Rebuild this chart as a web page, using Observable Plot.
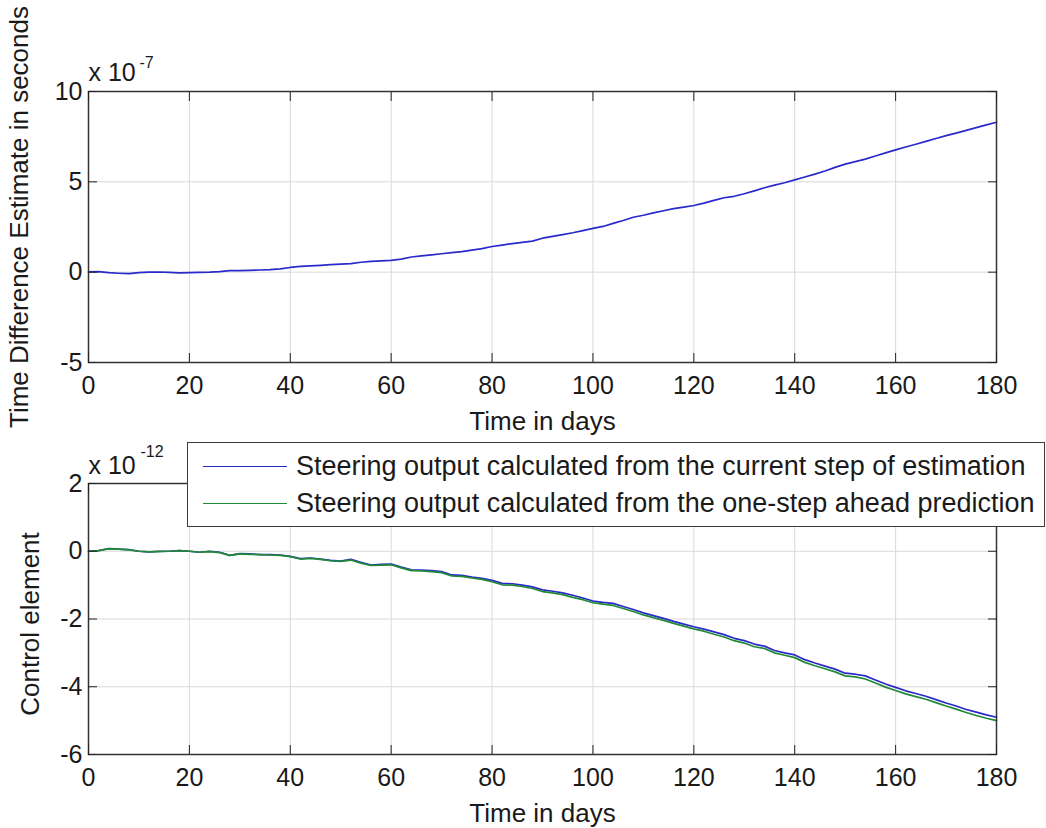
<!DOCTYPE html>
<html>
<head>
<meta charset="utf-8">
<script src="https://cdn.jsdelivr.net/npm/d3@7"></script>
<script src="https://cdn.jsdelivr.net/npm/@observablehq/plot@0.6"></script>
<style>
  html, body { margin: 0; padding: 0; background: #fff; }
  #wrap { position: relative; width: 1046px; height: 828px; overflow: hidden; font-family: "Liberation Sans", Arial, sans-serif; }
  #top, #bottom { position: absolute; left: 0; }
  #top { top: 0; }
  #bottom { top: 430px; }
  #legend { position: absolute; left: 187px; top: 442px; width: 858px; height: 85px; box-sizing: border-box;
            border: 1.5px solid #3a3a3a; background: #fff; }
  .lg-row { position: absolute; left: 0; height: 30px; display: flex; align-items: center; }
  .lg-line { width: 84px; height: 0; border-top: 1.6px solid; margin-left: 15px; margin-right: 9px; }
  .lg-text { font-size: 27px; color: #1a1a1a; white-space: nowrap; }
</style>
</head>
<body>
<div id="wrap">
  <div id="top"></div>
  <div id="bottom"></div>
  <div id="legend"></div>
</div>
<script>
// ---------------- data ----------------
const days = [0,2,4,6,8,10,12,14,16,18,20,22,24,26,28,30,32,34,36,38,40,42,44,46,48,50,52,54,56,58,60,62,64,66,68,70,72,74,76,78,80,82,84,86,88,90,92,94,96,98,100,102,104,106,108,110,112,114,116,118,120,122,124,126,128,130,132,134,136,138,140,142,144,146,148,150,152,154,156,158,160,162,164,166,168,170,172,174,176,178,180];

// Time difference estimate, units of 1e-7 s
const timeDiff = [0.02,0.03,-0.03,-0.06,-0.08,-0.03,0.00,0.01,-0.01,-0.04,-0.03,-0.01,0.00,0.03,0.09,0.08,0.10,0.12,0.14,0.18,0.26,0.32,0.35,0.38,0.42,0.45,0.47,0.55,0.60,0.63,0.65,0.72,0.84,0.90,0.96,1.02,1.08,1.14,1.22,1.30,1.42,1.50,1.58,1.65,1.72,1.88,1.98,2.08,2.18,2.30,2.42,2.53,2.70,2.86,3.04,3.15,3.28,3.40,3.52,3.60,3.69,3.82,3.97,4.12,4.20,4.34,4.50,4.67,4.82,4.95,5.11,5.27,5.43,5.60,5.80,5.98,6.12,6.26,6.43,6.60,6.77,6.93,7.08,7.24,7.40,7.56,7.70,7.85,8.00,8.15,8.30];

// Control element, units of 1e-12
const steeringCurrent = [0.00,0.02,0.08,0.06,0.05,0.00,-0.02,0.00,0.00,0.02,0.00,-0.03,0.00,-0.03,-0.12,-0.07,-0.08,-0.10,-0.10,-0.11,-0.15,-0.22,-0.20,-0.23,-0.27,-0.29,-0.24,-0.33,-0.41,-0.39,-0.38,-0.47,-0.55,-0.56,-0.57,-0.60,-0.70,-0.71,-0.76,-0.80,-0.86,-0.95,-0.96,-1.00,-1.05,-1.14,-1.18,-1.23,-1.30,-1.38,-1.47,-1.51,-1.54,-1.63,-1.72,-1.82,-1.90,-1.98,-2.07,-2.15,-2.23,-2.30,-2.38,-2.46,-2.57,-2.64,-2.74,-2.80,-2.93,-3.00,-3.06,-3.20,-3.30,-3.39,-3.48,-3.60,-3.63,-3.68,-3.80,-3.92,-4.02,-4.12,-4.20,-4.28,-4.38,-4.48,-4.57,-4.67,-4.75,-4.83,-4.90];
const steeringPredicted = [0.00,0.02,0.07,0.06,0.04,0.00,-0.02,-0.01,0.00,0.02,0.00,-0.03,-0.01,-0.04,-0.12,-0.08,-0.09,-0.10,-0.11,-0.12,-0.16,-0.23,-0.21,-0.24,-0.28,-0.30,-0.26,-0.35,-0.42,-0.41,-0.40,-0.49,-0.57,-0.58,-0.60,-0.63,-0.73,-0.74,-0.79,-0.83,-0.90,-0.99,-1.00,-1.04,-1.10,-1.19,-1.23,-1.28,-1.36,-1.43,-1.52,-1.56,-1.60,-1.69,-1.78,-1.88,-1.96,-2.04,-2.13,-2.21,-2.29,-2.36,-2.45,-2.53,-2.64,-2.71,-2.82,-2.87,-3.00,-3.07,-3.14,-3.28,-3.38,-3.47,-3.56,-3.68,-3.71,-3.77,-3.89,-4.01,-4.11,-4.21,-4.29,-4.37,-4.47,-4.57,-4.66,-4.76,-4.85,-4.93,-5.00];

const xTicks = [0,20,40,60,80,100,120,140,160,180];
const yTicksTop = [-5,0,5,10];
const yTicksBottom = [-6,-4,-2,0,2];

const xLabel = "Time in days";
const yLabelTop = "Time Difference Estimate in seconds";
const yLabelBottom = "Control element";
const expTop = ["x 10", "-7"];
const expBottom = ["x 10", "-12"];
const seriesNames = ["Steering output calculated from the current step of estimation",
                     "Steering output calculated from the one-step ahead prediction"];
const seriesColors = ["#2a2acc", "#218a35"];

// ---------------- helpers ----------------
const FONT = '"Liberation Sans", Arial, sans-serif';
const fmt = d => String(d);

function grids(yTicks) {
  return [
    Plot.gridX(xTicks, {stroke: "#d9d9d9", strokeOpacity: 1, strokeWidth: 1}),
    Plot.gridY(yTicks, {stroke: "#d9d9d9", strokeOpacity: 1, strokeWidth: 1}),
  ];
}
function axes(yTicks, yLabel, yLabelDx, yLabelDy, exp, expDy, supDx, supDy) {
  return [
    Plot.frame({stroke: "#333", strokeWidth: 1.5}),
    Plot.axisX(xTicks, {anchor: "bottom", tickSize: -9, tickPadding: 23, tickFormat: fmt, fontSize: 25, fill: "#1a1a1a", stroke: "#222", label: null}),
    Plot.axisX(xTicks, {anchor: "top", tickSize: -9, tickFormat: () => "", stroke: "#222", label: null}),
    Plot.axisY(yTicks, {anchor: "left", tickSize: -9, tickPadding: 15, tickFormat: fmt, fontSize: 25, fill: "#1a1a1a", stroke: "#222", label: null}),
    Plot.axisY(yTicks, {anchor: "right", tickSize: -9, tickFormat: () => "", stroke: "#222", label: null}),
    Plot.text([xLabel], {text: d => d, frameAnchor: "bottom", dy: 49, lineAnchor: "top", fontSize: 26, fill: "#1a1a1a"}),
    Plot.text([yLabel], {text: d => d, frameAnchor: "left", textAnchor: "middle", dx: yLabelDx, dy: yLabelDy, rotate: -90, lineAnchor: "middle", fontSize: 26, fill: "#1a1a1a"}),
    Plot.text([exp[0]], {text: d => d, frameAnchor: "top-left", textAnchor: "start", lineAnchor: "bottom", dy: expDy, fontSize: 25, fill: "#1a1a1a"}),
    Plot.text([exp[1]], {text: d => d, frameAnchor: "top-left", textAnchor: "start", lineAnchor: "bottom", dx: supDx, dy: supDy, fontSize: 16, fill: "#1a1a1a"})
  ];
}

const topData = days.map((d, i) => ({day: d, v: timeDiff[i]}));
const botData = days.flatMap((d, i) => [
  {day: d, v: steeringCurrent[i], s: seriesNames[0]},
  {day: d, v: steeringPredicted[i], s: seriesNames[1]}
]);

const topPlot = Plot.plot({
  width: 1046, height: 430,
  marginLeft: 88, marginRight: 50, marginTop: 91, marginBottom: 68,
  style: {fontFamily: FONT, background: "transparent", overflow: "visible"},
  x: {domain: [0, 180], axis: null},
  y: {domain: [-5, 10], axis: null},
  marks: [
    ...grids(yTicksTop),
    Plot.line(topData, {x: "day", y: "v", stroke: seriesColors[0], strokeWidth: 1.7}),
    ...axes(yTicksTop, yLabelTop, -69, -10, expTop, -11, 51, -24)
  ]
});
document.getElementById("top").appendChild(topPlot);

const botPlot = Plot.plot({
  width: 1046, height: 398,
  marginLeft: 88, marginRight: 50, marginTop: 53, marginBottom: 74,
  style: {fontFamily: FONT, background: "transparent", overflow: "visible"},
  x: {domain: [0, 180], axis: null},
  y: {domain: [-6, 2], axis: null},
  color: {domain: seriesNames, range: seriesColors},
  marks: [
    ...grids(yTicksBottom),
    Plot.line(botData, {x: "day", y: "v", z: "s", stroke: "s", strokeWidth: 1.7}),
    ...axes(yTicksBottom, yLabelBottom, -58, 5, expBottom, -10, 52, -27)
  ]
});
document.getElementById("bottom").appendChild(botPlot);

// legend
const legend = document.getElementById("legend");
seriesNames.forEach((name, i) => {
  const row = document.createElement("div");
  row.className = "lg-row";
  row.style.top = (i === 0 ? 8.5 : 45.5) + "px";
  const line = document.createElement("div");
  line.className = "lg-line";
  line.style.borderTopColor = seriesColors[i];
  const txt = document.createElement("span");
  txt.className = "lg-text";
  txt.textContent = name;
  row.appendChild(line);
  row.appendChild(txt);
  legend.appendChild(row);
});
</script>
</body>
</html>
